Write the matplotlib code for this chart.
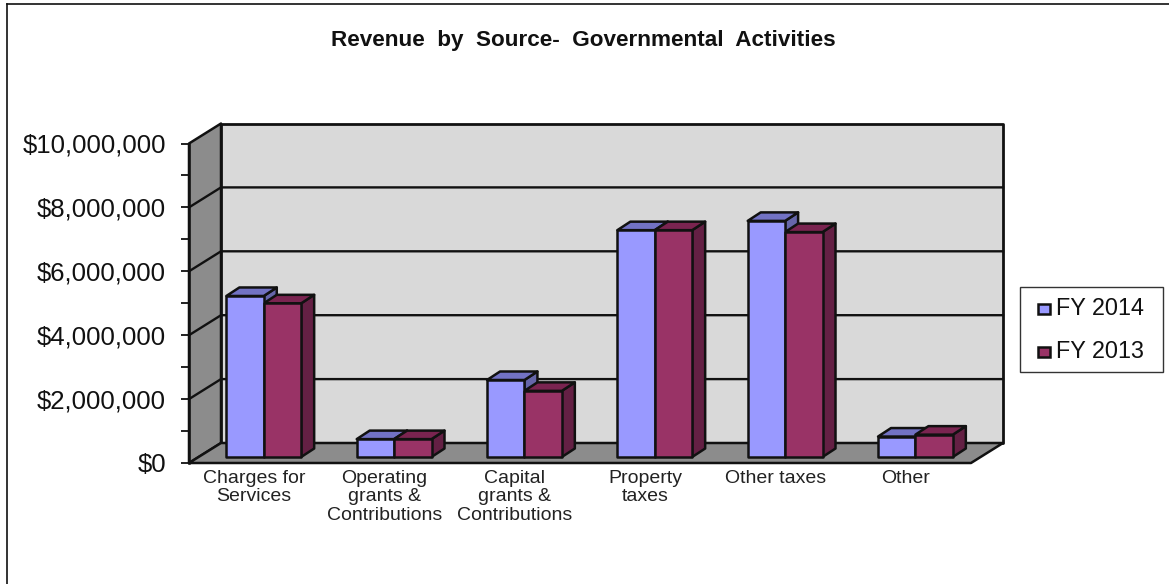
import numpy as np
import matplotlib
matplotlib.use('Agg')
import matplotlib.pyplot as plt
from matplotlib.patches import Polygon, Rectangle
from matplotlib.transforms import ScaledTranslation

plt.rcParams['font.family'] = ['Liberation Sans', 'DejaVu Sans']

categories = ['Charges for\nServices', 'Operating\ngrants &\nContributions',
              'Capital\ngrants &\nContributions', 'Property\ntaxes',
              'Other taxes', 'Other']
fy2014 = [5040000, 560000, 2410000, 7100000, 7390000, 640000]
fy2013 = [4810000, 560000, 2070000, 7100000, 7040000, 700000]
tick_values = [0, 2000000, 4000000, 6000000, 8000000, 10000000]
tick_labels = ['$0', '$2,000,000', '$4,000,000', '$6,000,000', '$8,000,000', '$10,000,000']

W, H = 1169, 584
fig = plt.figure(figsize=(W / 100, H / 100), dpi=100)
fig.patch.set_facecolor('white')

# front plane of the fake 3d box
left, right, bottom, top = 189, 971, 463, 143.5
ax = fig.add_axes([left / W, 1 - bottom / H, (right - left) / W, (bottom - top) / H])
ax.set_xlim(0, 6)
ax.set_ylim(0, 10000000)
ax.patch.set_visible(False)
for s in ax.spines.values():
    s.set_visible(False)

px_x = 6 / (right - left)
px_y = 10000000 / (bottom - top)
DX, DY = 32 * px_x, 20 * px_y   # box depth
INK = '#111111'


def poly(points, color, z=2, lw=1.8, ec=INK):
    ax.add_patch(Polygon(points, closed=True, facecolor=color, edgecolor=ec,
                         linewidth=lw, zorder=z, clip_on=False, joinstyle='round'))


# walls and floor
poly([(0, 0), (DX, DY), (DX, 10000000 + DY), (0, 10000000)], '#8c8c8c')
poly([(DX, DY), (6 + DX, DY), (6 + DX, 10000000 + DY), (DX, 10000000 + DY)], '#d9d9d9', lw=2.0)
poly([(0, 0), (6, 0), (6 + DX, DY), (DX, DY)], '#8c8c8c')

# gridlines run along the side wall and the back wall
for v in tick_values[1:-1]:
    ax.plot([0, DX, 6 + DX], [v, v + DY, v + DY], color=INK, lw=1.7, zorder=3, clip_on=False)

# bars sit part way into the floor
bar_w = 37.4 * px_x
off_x, off_y = 9.6 * px_x, 6 * px_y
dep_x, dep_y = 13 * px_x, 8.5 * px_y


def bar(x0, val, front, top_c, side):
    x0 += off_x
    y0 = off_y
    y1 = y0 + val
    poly([(x0 + bar_w, y0), (x0 + bar_w + dep_x, y0 + dep_y),
          (x0 + bar_w + dep_x, y1 + dep_y), (x0 + bar_w, y1)], side, z=5)
    poly([(x0, y1), (x0 + dep_x, y1 + dep_y), (x0 + bar_w + dep_x, y1 + dep_y),
          (x0 + bar_w, y1)], top_c, z=5)
    poly([(x0, y0), (x0 + bar_w, y0), (x0 + bar_w, y1), (x0, y1)], front, z=6)


for i in range(len(categories)):
    c = i + 0.5
    # 2013 goes on last so its top covers the seam of the pair
    bar(c - bar_w, fy2014[i], '#9999ff', '#7272c4', '#6666aa')
    bar(c, fy2013[i], '#993366', '#7a2450', '#642044')

ax.set_xticks(np.arange(6) + 0.5)
ax.set_xticklabels(categories, fontsize=14, linespacing=1.1, color='#222222')
ax.tick_params(axis='x', length=0, pad=5)
ax.set_yticks(tick_values)
ax.set_yticklabels(tick_labels, fontsize=18.5, color='#111111')
ax.set_yticks(np.arange(0, 11000000, 1000000), minor=True)
ax.tick_params(axis='y', which='major', length=6, width=1.3, color=INK, pad=10.5)
ax.tick_params(axis='y', which='minor', length=6, width=1.3, color=INK)
# lift the dollar labels a little
nudge = ScaledTranslation(0, 0.5 / 100, fig.dpi_scale_trans)
for label in ax.get_yticklabels():
    label.set_transform(label.get_transform() + nudge)
ax.spines['left'].set_visible(True)
ax.spines['left'].set_linewidth(1.8)
ax.spines['left'].set_color(INK)
ax.spines['left'].set_zorder(4)

fig.text(583.5 / W, 1 - 40.5 / H, 'Revenue  by  Source-  Governmental  Activities', fontsize=16.2,
         fontweight='bold', ha='center', va='center', color='#111111')

# chart frame, cut off by the top and right of the page
fig.add_artist(plt.Line2D([7 / W, 7 / W], [0, 1 - 4 / H], color=INK, lw=1.2))
fig.add_artist(plt.Line2D([7 / W, 1], [1 - 4 / H, 1 - 4 / H], color=INK, lw=1.2))

# legend box
fig.add_artist(Rectangle((1020 / W, 1 - 372 / H), 143 / W, 85 / H, transform=fig.transFigure,
                         facecolor='white', edgecolor='#333333', lw=1))
for y, c, lab in [(309, '#9999ff', 'FY 2014'), (352, '#993366', 'FY 2013')]:
    fig.add_artist(Rectangle((1038 / W, 1 - (y + 5) / H), 12 / W, 10 / H, transform=fig.transFigure,
                             facecolor=c, edgecolor=INK, lw=1.8))
    fig.text(1056 / W, 1 - y / H, lab, fontsize=16.8, va='center', color='#111111')

fig.savefig('out.png', dpi=100)
